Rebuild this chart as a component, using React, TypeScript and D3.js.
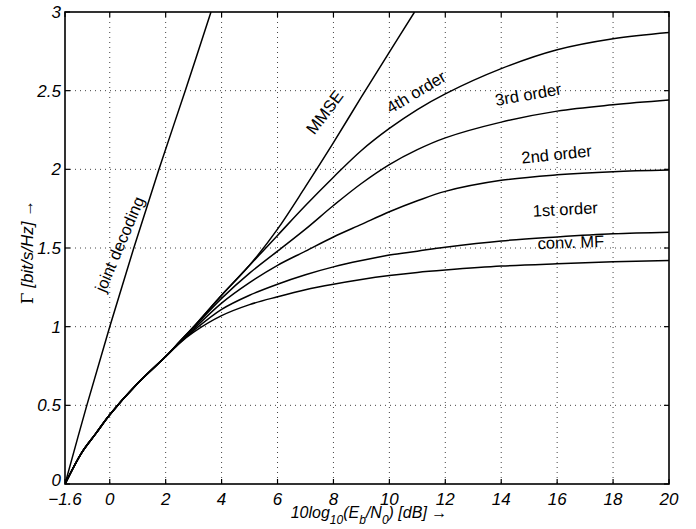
import React from "react";
import * as d3 from "d3";

const W = 696;
const H = 529;
const M = { left: 65, right: 669, top: 12, bottom: 484 };

const xTicks = [-1.6, 0, 2, 4, 6, 8, 10, 12, 14, 16, 18, 20];
const yTicks = [0, 0.5, 1, 1.5, 2, 2.5, 3];

const jointDecoding: [number, number][] = [
  [-1.6, 0], [-0.82, 0.5], [0, 1.0], [0.86, 1.5], [1.76, 2.0], [2.7, 2.5], [3.62, 3.0],
];

const commonLow: [number, number][] = [
  [-1.6, 0], [-1, 0.2], [-0.5, 0.32], [0, 0.44], [1, 0.64], [2, 0.81],
];

const mmse: [number, number][] = [
  [2.5, 0.905], [3, 1.0], [4, 1.2], [5, 1.39], [6, 1.62], [7, 1.89], [8, 2.17], [9, 2.46], [10, 2.745], [10.9, 3.0],
];
const order4: [number, number][] = [
  [2.5, 0.905], [3, 1.0], [4, 1.2], [5, 1.39], [6, 1.58], [7, 1.77], [8, 1.95], [9, 2.12], [10, 2.26],
  [11, 2.38], [12, 2.48], [14, 2.64], [16, 2.76], [18, 2.83], [20, 2.87],
];
const order3: [number, number][] = [
  [2.5, 0.903], [3, 0.995], [4, 1.18], [5, 1.34], [6, 1.48], [7, 1.62], [8, 1.77], [9, 1.91], [10, 2.03],
  [11, 2.125], [12, 2.2], [14, 2.3], [16, 2.37], [18, 2.41], [20, 2.44],
];
const order2: [number, number][] = [
  [2.5, 0.9], [3, 0.985], [4, 1.15], [5, 1.28], [6, 1.39], [7, 1.48], [8, 1.57], [9, 1.65], [10, 1.73],
  [11, 1.8], [12, 1.86], [14, 1.93], [16, 1.965], [18, 1.985], [20, 1.995],
];
const order1: [number, number][] = [
  [2.5, 0.897], [3, 0.975], [4, 1.11], [5, 1.2], [6, 1.27], [7, 1.33], [8, 1.38], [9, 1.42], [10, 1.455],
  [11, 1.48], [12, 1.505], [14, 1.545], [16, 1.57], [18, 1.59], [20, 1.6],
];
const convMF: [number, number][] = [
  [2.5, 0.895], [3, 0.965], [4, 1.07], [5, 1.14], [6, 1.19], [7, 1.235], [8, 1.27], [9, 1.3], [10, 1.325],
  [11, 1.345], [12, 1.36], [14, 1.385], [16, 1.4], [18, 1.412], [20, 1.42],
];

const seriesList = [
  { name: "joint decoding", pts: jointDecoding },
  { name: "MMSE", pts: [...commonLow, ...mmse] },
  { name: "4th order", pts: [...commonLow, ...order4] },
  { name: "3rd order", pts: [...commonLow, ...order3] },
  { name: "2nd order", pts: [...commonLow, ...order2] },
  { name: "1st order", pts: [...commonLow, ...order1] },
  { name: "conv. MF", pts: [...commonLow, ...convMF] },
];

// label placement in data coords with rotation
const curveLabels = [
  { text: "joint decoding", x: 0.54, y: 1.51, angle: -67 },
  { text: "MMSE", x: 7.85, y: 2.34, angle: -53 },
  { text: "4th order", x: 11.06, y: 2.46, angle: -31 },
  { text: "3rd order", x: 15.0, y: 2.44, angle: -10 },
  { text: "2nd order", x: 16.0, y: 2.06, angle: -6 },
  { text: "1st order", x: 16.3, y: 1.71, angle: -3 },
  { text: "conv. MF", x: 16.5, y: 1.5, angle: -2 },
];

const FONT = "'Liberation Sans', Arial, Helvetica, sans-serif";

export default function App() {
  const x = d3.scaleLinear().domain([-1.6, 20]).range([M.left, M.right]);
  const y = d3.scaleLinear().domain([0, 3]).range([M.bottom, M.top]);
  const line = d3
    .line<[number, number]>()
    .x((d) => x(d[0]))
    .y((d) => y(d[1]))
    .curve(d3.curveCatmullRom.alpha(0.5));

  const fmtX = (v: number) => (v < 0 ? "\u2212" + Math.abs(v) : String(v));
  const tickLen = 5;

  return (
    <div style={{ position: "fixed", left: 0, top: 0 }}>
      <svg width={W} height={H} style={{ display: "block", background: "#fff" }} fontFamily={FONT}>
        <defs>
          <clipPath id="plotclip">
            <rect x={M.left} y={M.top} width={M.right - M.left} height={M.bottom - M.top} />
          </clipPath>
        </defs>
        {/* grid */}
        {xTicks.slice(1, -1).map((t) => (
          <line key={"gx" + t} x1={x(t)} x2={x(t)} y1={M.top} y2={M.bottom}
            stroke="#444" strokeWidth={1} strokeDasharray="1,4" />
        ))}
        {yTicks.slice(1, -1).map((t) => (
          <line key={"gy" + t} x1={M.left} x2={M.right} y1={y(t)} y2={y(t)}
            stroke="#444" strokeWidth={1} strokeDasharray="1,4" />
        ))}
        {/* ticks inward on all sides */}
        {xTicks.map((t) => (
          <g key={"tx" + t}>
            <line x1={x(t)} x2={x(t)} y1={M.bottom} y2={M.bottom - tickLen} stroke="#000" strokeWidth={1.2} />
            <line x1={x(t)} x2={x(t)} y1={M.top} y2={M.top + tickLen} stroke="#000" strokeWidth={1.2} />
          </g>
        ))}
        {yTicks.map((t) => (
          <g key={"ty" + t}>
            <line x1={M.left} x2={M.left + tickLen} y1={y(t)} y2={y(t)} stroke="#000" strokeWidth={1.2} />
            <line x1={M.right} x2={M.right - tickLen} y1={y(t)} y2={y(t)} stroke="#000" strokeWidth={1.2} />
          </g>
        ))}
        {/* curves */}
        <g clipPath="url(#plotclip)">
          {seriesList.map((s) => (
            <path key={s.name} d={line(s.pts) || ""} fill="none" stroke="#000" strokeWidth={1.5} />
          ))}
        </g>
        {/* box */}
        <rect x={M.left} y={M.top} width={M.right - M.left} height={M.bottom - M.top}
          fill="none" stroke="#000" strokeWidth={1.6} />
        {/* tick labels */}
        {xTicks.map((t) => (
          <text key={"lx" + t} x={x(t)} y={505} textAnchor="middle" fontSize={17} fontStyle="italic">
            {fmtX(t)}
          </text>
        ))}
        {yTicks.map((t) => (
          <text key={"ly" + t} x={61} y={y(t) + (t === 0 ? 2 : 6)} textAnchor="end" fontSize={17} fontStyle="italic">
            {String(t)}
          </text>
        ))}
        {/* curve labels */}
        {curveLabels.map((l) => (
          <text key={l.text} x={0} y={0} fontSize={16.5} textAnchor="middle"
            transform={`translate(${x(l.x)},${y(l.y)}) rotate(${l.angle})`}>
            {l.text}
          </text>
        ))}
        {/* x axis label */}
        <text x={369} y={518} textAnchor="middle" fontSize={16} fontStyle="italic">
          10log<tspan fontSize={12} dy={6}>10</tspan>
          <tspan dy={-6}>(E</tspan><tspan fontSize={12} dy={6}>b</tspan>
          <tspan dy={-6}>/N</tspan><tspan fontSize={12} dy={6}>0</tspan>
          <tspan dy={-6}>) [dB]</tspan><tspan fontStyle="normal">{" \u2192"}</tspan>
        </text>
        {/* y axis label */}
        <text x={0} y={0} textAnchor="middle" fontSize={17}
          transform={`translate(33,252) rotate(-90)`}>
          <tspan fontFamily="'DejaVu Serif', 'Liberation Serif', serif">Γ</tspan>
          <tspan fontStyle="italic">{" [bit/s/Hz]"}</tspan>
          <tspan>{" \u2192"}</tspan>
        </text>
      </svg>
    </div>
  );
}
